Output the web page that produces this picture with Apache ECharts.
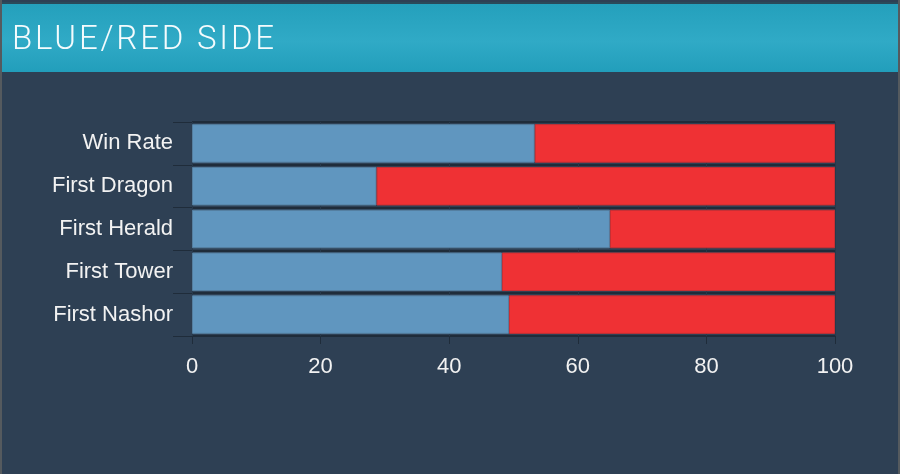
<!DOCTYPE html>
<html>
<head>
<meta charset="utf-8">
<script src="https://cdn.jsdelivr.net/npm/echarts@6/dist/echarts.min.js"></script>
<style>
  html, body { margin: 0; padding: 0; }
  body { width: 900px; height: 474px; background: #2e4054; overflow: hidden; }
  #frame { position: absolute; left: 0; top: 0; width: 896px; height: 474px;
    border-left: 2px solid #555a5e; border-right: 2px solid #555a5e; }
  #head { position: absolute; left: 0; top: 2px; width: 900px; height: 70px;
    background: linear-gradient(#24a0bc, #30aac6 55%, #229ebb);
    border-top: 2px solid #2a4a5a; box-sizing: border-box; }
  #head span { position: absolute; left: 12px; top: 14px; color: #f4fbfd;
    font-family: Roboto, sans-serif; font-weight: 300; font-size: 33px; letter-spacing: 2.8px; }
  #circle { position: absolute; left: 0; top: 0; width: 900px; height: 474px; }
</style>
</head>
<body>
<div id="circle"></div>
<div id="head"><span>BLUE/RED SIDE</span></div>
<div id="frame"></div>
<script>
var categories = ['Win Rate', 'First Dragon', 'First Herald', 'First Tower', 'First Nashor'];
var blueSide = [53.3, 28.7, 65.0, 48.2, 49.3];
var redSide = [46.7, 71.3, 35.0, 51.8, 50.7];
var xTicks = [0, 20, 40, 60, 80, 100];

var myChart = echarts.init(document.querySelector('#circle'));
option = {
  backgroundColor: '#2e4054',
  grid: { left: 192, right: 65, top: 122, bottom: 138 },
  xAxis: {
    type: 'value',
    min: xTicks[0],
    max: xTicks[xTicks.length - 1],
    interval: 20,
    axisLine: { show: false },
    axisTick: { show: true, length: 8, lineStyle: { color: '#1f2c3a' } },
    splitLine: { show: true, lineStyle: { color: '#27394b', width: 1 } },
    axisLabel: { color: '#f2f2f2', fontSize: 22, fontFamily: 'Liberation Sans, Arial', margin: 20 }
  },
  yAxis: {
    type: 'category',
    inverse: true,
    data: categories,
    axisLine: { show: false },
    axisTick: { show: true, length: 19, lineStyle: { color: '#1f2c3a', width: 1 } },
    splitLine: { show: true, lineStyle: { color: '#1f2c3a', width: 2 } },
    axisLabel: { color: '#f2f2f2', fontSize: 22, fontFamily: 'Liberation Sans, Arial', margin: 19 }
  },
  series: [
    {
      name: 'Blue',
      type: 'bar',
      stack: 'side',
      barCategoryGap: '10%',
      data: blueSide,
      itemStyle: { color: '#6096bf', borderColor: '#557fa0', borderWidth: 1 }
    },
    {
      name: 'Red',
      type: 'bar',
      stack: 'side',
      barCategoryGap: '10%',
      data: redSide,
      itemStyle: { color: '#ef3134', borderColor: '#c93034', borderWidth: 1 }
    }
  ]
};

myChart.setOption(option);
</script>
</body>
</html>
